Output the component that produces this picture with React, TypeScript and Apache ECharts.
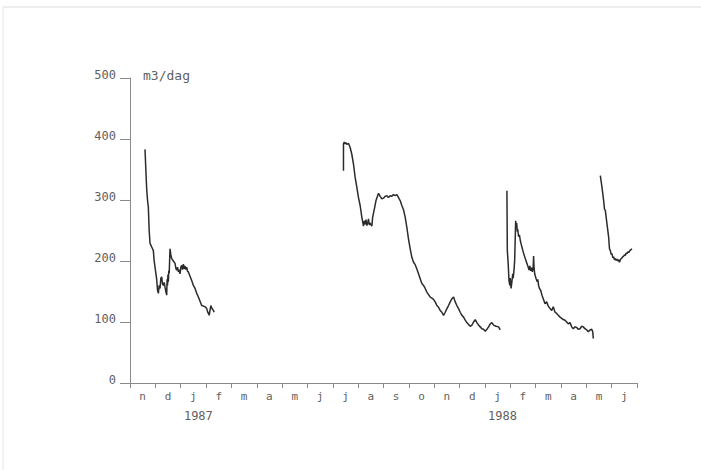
import React, { useEffect, useRef } from "react";
import * as echarts from "echarts";

// Month categories from November 1986 through June 1988
const months = ["n", "d", "j", "f", "m", "a", "m", "j", "j", "a", "s", "o", "n", "d", "j", "f", "m", "a", "m", "j"];
// Year labels under the January categories
const yearLabels = ["", "", "1987", "", "", "", "", "", "", "", "", "", "", "", "1988", "", "", "", "", ""];
// y axis ticks (m3/dag)
const yTicks = [0, 100, 200, 300, 400, 500];
const unitLabel = "m3/dag";
// Total number of days in the plotted period (1 Nov 1986 - 1 Jul 1988)
const totalDays = 608;

// Flow values: [days since 1 Nov 1986, m3/dag]
const flowNov86 = [
  [18, 383], [19, 350], [20, 318], [21, 300], [22, 288], [23, 250], [24, 229], [25, 226], [26, 223], [27, 220],
  [28, 217], [29, 200], [31, 180], [32, 170], [33, 152], [34, 147], [35, 160], [36, 155], [37, 172], [38, 174],
  [39, 162], [40, 160], [41, 165], [42, 157], [43, 150], [44, 144], [44.5, 170], [45, 160], [45.5, 178], [46, 166],
  [46.5, 184], [47, 180], [48, 220], [49, 210], [50, 204], [52, 200], [54, 196], [55, 188], [56, 185], [57, 190],
  [58, 182], [59, 186], [60, 179], [61, 190], [62, 193], [63, 186], [64, 195], [65, 187], [66, 192], [67, 186],
  [68, 190], [69, 183], [70, 182], [72, 175], [74, 168], [76, 160], [78, 155], [80, 147], [82, 141], [84, 134],
  [86, 127], [88, 126], [90, 125], [92, 122], [93, 117], [95, 111], [96, 120], [97, 127], [98, 123], [100, 119],
  [101, 116],
];

const flowJul87 = [
  [256, 348], [256, 392], [257, 395], [258, 392], [259, 394], [260, 391], [262, 393], [264, 386], [266, 375], [268, 359],
  [270, 337], [272, 321], [274, 304], [276, 291], [278, 272], [280, 257], [281, 266], [282, 260], [283, 268], [284, 258],
  [285, 262], [286, 269], [287, 259], [288, 262], [290, 257], [291, 272], [293, 285], [295, 299], [298, 311], [300, 306],
  [302, 302], [304, 303], [306, 306], [308, 307], [310, 304], [312, 307], [314, 306], [316, 309], [318, 307], [320, 309],
  [322, 304], [324, 299], [326, 291], [328, 284], [330, 272], [332, 255], [334, 236], [336, 220], [338, 206], [340, 198],
  [342, 194], [344, 187], [346, 179], [348, 171], [350, 163], [352, 160], [354, 155], [356, 149], [358, 145], [360, 141],
  [362, 139], [364, 137], [366, 133], [368, 127], [370, 124], [372, 119], [374, 116], [376, 111], [378, 116], [380, 122],
  [382, 127], [384, 133], [386, 138], [388, 141], [390, 133], [392, 127], [394, 122], [396, 116], [398, 111], [400, 108],
  [402, 103], [404, 99], [406, 96], [408, 93], [410, 95], [412, 100], [414, 104], [416, 99], [418, 95], [420, 92],
  [422, 89], [424, 88], [426, 85], [428, 88], [430, 92], [432, 97], [434, 99], [436, 95], [439, 93], [442, 92],
  [444, 87],
];

const flowJan88 = [
  [452, 315], [452.5, 217], [453.5, 196], [454.5, 168], [455.5, 160], [456, 172], [457, 155], [458, 166], [459, 179], [459.5, 172],
  [460.5, 185], [461.3, 201], [462, 239], [462.5, 266], [463, 258], [463.7, 262], [464.5, 248], [465, 252], [466, 240], [467, 243],
  [468, 234], [469, 228], [470, 223], [471.5, 215], [473.5, 206], [475.5, 198], [477.5, 190], [478.5, 185], [479.5, 192], [480.5, 184],
  [481.5, 189], [482.5, 182], [483.5, 190], [484, 208], [484.5, 190], [485.3, 179], [487, 171], [488.4, 166], [489, 170], [490, 160],
  [491, 155], [492.5, 152], [494, 144], [495.6, 138], [497.7, 130], [499.7, 133], [501.6, 126], [503.7, 122], [505.7, 119], [507.6, 125],
  [509.7, 116], [511.7, 114], [513.6, 111], [515.7, 108], [517.7, 106], [519.6, 104], [521.7, 103], [523.7, 100], [525.6, 97], [527.6, 99],
  [529.7, 92], [531.6, 89], [533.6, 92], [535.7, 91], [537.6, 88], [539.6, 89], [541.7, 93], [543.6, 92], [545.6, 89], [547.7, 87],
  [549.6, 84], [551.6, 87], [553.7, 88], [554.9, 84], [555.6, 73],
];

const flowMay88 = [
  [564, 340], [566, 321], [568, 299], [569, 285], [570, 283], [572, 261], [574, 239], [575, 220], [576, 217], [577, 211],
  [578, 212], [579, 205], [580, 207], [581, 202], [582, 204], [583, 201], [584, 203], [585, 200], [586, 202], [587, 198],
  [588, 202], [589, 204], [590, 205], [591, 207], [592, 208], [593, 210], [594, 209], [595, 213], [596, 212], [597, 215],
  [598, 214], [600, 218], [602, 220],
];

const FONT = "'DejaVu Sans Mono', 'Liberation Mono', monospace";
const AXIS_COLOR = "#8a8a8a";
const TEXT_COLOR = "#5f5f5f";
const LINE_COLOR = "#2b2b2b";

export default function App() {
  const ref = useRef<HTMLDivElement>(null);

  useEffect(() => {
    if (!ref.current) return;
    const chart = echarts.init(ref.current, null, { renderer: "svg" });
    const lineSeries = (data: number[][]) => ({
      type: "line",
      xAxisIndex: 1,
      yAxisIndex: 0,
      data,
      showSymbol: false,
      symbol: "none",
      lineStyle: { color: LINE_COLOR, width: 1.5 },
      silent: true,
    });
    chart.setOption({
      animation: false,
      backgroundColor: "#ffffff",
      grid: { left: 130, right: 64, top: 78, bottom: 87, containLabel: false },
      xAxis: [
        {
          type: "category",
          data: months,
          position: "bottom",
          boundaryGap: true,
          axisLine: { show: true, lineStyle: { color: AXIS_COLOR, width: 1 } },
          axisTick: { show: true, interval: 0, length: 5, alignWithLabel: false, lineStyle: { color: AXIS_COLOR } },
          axisLabel: { interval: 0, margin: 8, color: TEXT_COLOR, fontFamily: FONT, fontSize: 11 },
          splitLine: { show: false },
        },
        {
          type: "value",
          min: 0,
          max: totalDays,
          show: false,
          splitLine: { show: false },
        },
        {
          type: "category",
          data: yearLabels,
          position: "bottom",
          offset: 0,
          boundaryGap: true,
          axisLine: { show: false },
          axisTick: { show: false },
          axisLabel: {
            interval: 0,
            margin: 27,
            color: TEXT_COLOR,
            fontFamily: FONT,
            fontSize: 12,
            padding: [0, 0, 0, 10],
          },
          splitLine: { show: false },
        },
      ],
      yAxis: [
        {
          type: "value",
          min: yTicks[0],
          max: yTicks[yTicks.length - 1],
          interval: 100,
          axisLine: { show: true, lineStyle: { color: AXIS_COLOR, width: 1 } },
          axisTick: { show: true, length: 10, lineStyle: { color: AXIS_COLOR } },
          axisLabel: {
            margin: 14,
            color: TEXT_COLOR,
            fontFamily: FONT,
            fontSize: 12,
            verticalAlign: "bottom",
            lineHeight: 6,
          },
          splitLine: { show: false },
        },
      ],
      graphic: [
        {
          type: "text",
          left: 143,
          top: 69,
          style: { text: unitLabel, fill: TEXT_COLOR, font: `13px ${FONT}` },
        },
        {
          type: "line",
          shape: { x1: 3, y1: 7, x2: 701, y2: 7 },
          style: { stroke: "#dcdcdc", lineWidth: 1 },
          silent: true,
        },
        {
          type: "line",
          shape: { x1: 3, y1: 7, x2: 3, y2: 470 },
          style: { stroke: "#e6e6e6", lineWidth: 1 },
          silent: true,
        },
      ],
      series: [lineSeries(flowNov86), lineSeries(flowJul87), lineSeries(flowJan88), lineSeries(flowMay88)],
    });
    return () => chart.dispose();
  }, []);

  return (
    <div
      ref={ref}
      style={{ position: "fixed", left: 0, top: 0, width: 701, height: 470, background: "#fff" }}
    />
  );
}
